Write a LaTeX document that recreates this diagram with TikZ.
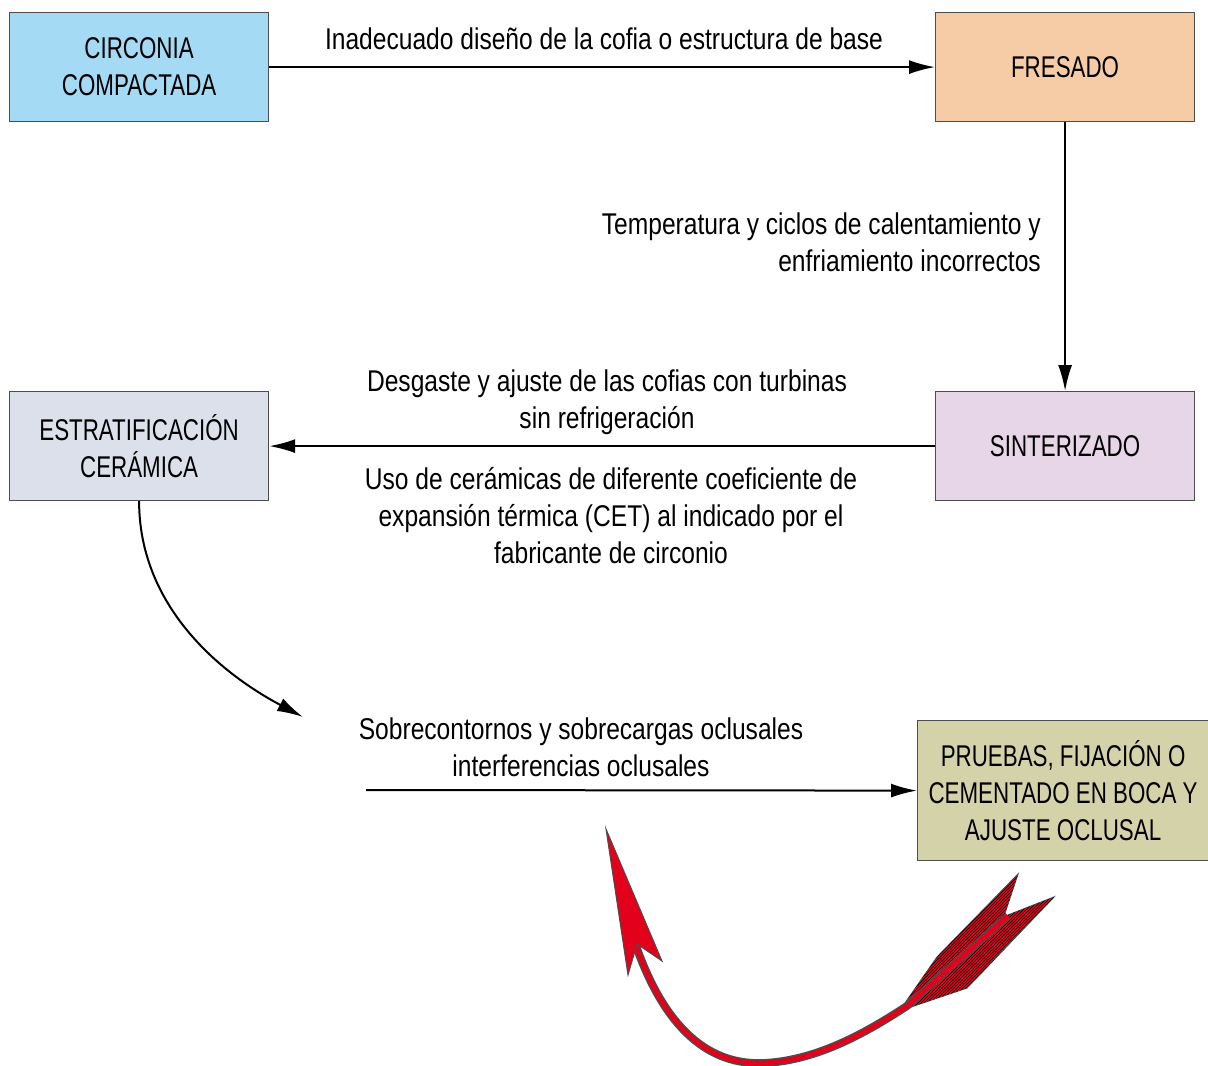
\documentclass[tikz,border=0pt]{standalone}
\usepackage{fontspec}
\setmainfont{Liberation Sans}[FakeStretch=0.82]
\newfontfamily\cajafont{Liberation Sans}[FakeStretch=0.745]
\usetikzlibrary{arrows.meta,patterns}
\definecolor{circonia}{HTML}{A4DAF3}
\definecolor{fresado}{HTML}{F6CCA7}
\definecolor{sinter}{HTML}{E7D5E8}
\definecolor{estrat}{HTML}{DCE0EA}
\definecolor{pruebas}{HTML}{D4D2A9}
\definecolor{boxline}{HTML}{4D4D4D}
\definecolor{flecha}{HTML}{E2001A}
\tikzset{
  box/.style={draw=boxline, line width=1.2pt, minimum width=259pt, minimum height=109pt,
    align=center, inner sep=2pt, anchor=north west, font=\cajafont\fontsize{30}{37}\selectfont},
  lbl/.style={align=center, inner sep=0pt},
  arr/.style={line width=2pt, -{Latex[length=26pt,width=14pt]}},
}
\begin{document}
\begin{tikzpicture}[x=1pt, y=-1pt, font=\fontsize{30}{37}\selectfont]
    \useasboundingbox (0,0) rectangle (1208,1066);

    % cajas
    \node[box, fill=circonia] (cir) at (9,12) {CIRCONIA\\COMPACTADA};
    \node[box, fill=fresado] (fre) at (935,12) {FRESADO};
    \node[box, fill=sinter] (sin) at (935,391) {SINTERIZADO};
    \node[box, fill=estrat] (est) at (9,391) {ESTRATIFICACIÓN\\CERÁMICA};
    \node[box, fill=pruebas, minimum width=291pt, minimum height=140pt] (pru) at (917,720)
        {PRUEBAS, FIJACIÓN O\\CEMENTADO EN BOCA Y\\AJUSTE OCLUSAL};

    % flechas
    \draw[arr] (cir) -- (fre);
    \draw[arr] (fre) -- (sin);
    \draw[arr] (sin) -- (est);
    \coordinate (curvafin) at (303,717);
    \draw[arr] (est.south) to[out=-90, in=152, looseness=0.95] (curvafin);
    \coordinate (inicio) at (366,790);
    \draw[arr] (inicio) -- (pru.west);

    % textos
    \node[lbl] (t1) at (604,39) {Inadecuado diseño de la cofia o estructura de base};
    \node[lbl, anchor=east, align=right] (t2) at (1041,242)
        {Temperatura y ciclos de calentamiento y\\enfriamiento incorrectos};
    \node[lbl] (t3) at (607,402) {Desgaste y ajuste de las cofias con turbinas\\sin refrigeración};
    \node[lbl] (t4) at (611,516)
        {Uso de cerámicas de diferente coeficiente de\\expansión térmica (CET) al indicado por el\\fabricante de circonio};
    \node[lbl] (t5) at (581,747) {Sobrecontornos y sobrecargas oclusales\\interferencias oclusales};

    % flecha roja
    \fill[flecha, draw=boxline, line width=1pt] (905,1003) -- (937,957) -- (1018,874) -- (1004,916) -- cycle;
    \fill[pattern=north east lines, pattern color=black] (905,1003) -- (937,957) -- (1018,874) -- (1004,916) -- cycle;
    \fill[flecha, draw=boxline, line width=1pt] (908,1008) -- (1008,915) -- (1054,897) -- (967,988) -- cycle;
    \fill[pattern=north east lines, pattern color=black] (908,1008) -- (1008,915) -- (1054,897) -- (967,988) -- cycle;
    \draw[boxline, line width=8pt] (635,943) .. controls (665,1030) and (710,1066) .. (765,1063)
        .. controls (820,1060) and (870,1030) .. (907,1006) -- (1008,916);
    \draw[flecha, line width=5pt] (635,943) .. controls (665,1030) and (710,1066) .. (765,1063)
        .. controls (820,1060) and (870,1030) .. (907,1006) -- (1008,916);
    \fill[flecha, draw=boxline, line width=1pt] (606,829) -- (662,961) -- (637,944) -- (628,975) -- cycle;
\end{tikzpicture}
\end{document}
